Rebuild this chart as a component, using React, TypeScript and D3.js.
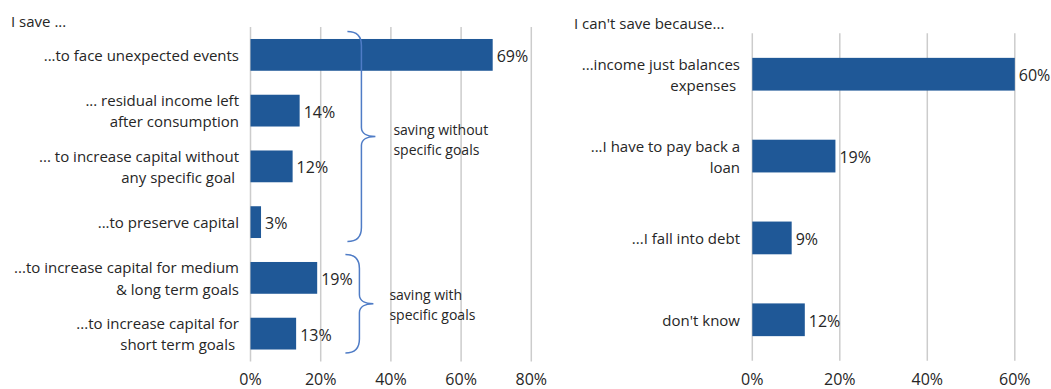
import React from "react";
import * as d3 from "d3";

const saveTitle = "I save ...";
const saveCategories = [
  "...to face unexpected events",
  "... residual income left\nafter consumption",
  "... to increase capital without\nany specific goal ",
  "...to preserve capital",
  "...to increase capital for medium\n& long term goals",
  "...to increase capital for\nshort term goals ",
];
const saveValues = [0.69, 0.14, 0.12, 0.03, 0.19, 0.13];
const saveTicks = [0, 0.2, 0.4, 0.6, 0.8];
const saveGroups = [
  { from: 0, to: 3, label: ["saving without", "specific goals"] },
  { from: 4, to: 5, label: ["saving with", "specific goals"] },
];

const cantTitle = "I can't save because...";
const cantCategories = [
  "...income just balances\nexpenses ",
  "...I have to pay back a\nloan",
  "...I fall into debt",
  "don't know",
];
const cantValues = [0.6, 0.19, 0.09, 0.12];
const cantTicks = [0, 0.2, 0.4, 0.6];

const FONT = "'Open Sans', sans-serif";
const TEXT = "#262626";
const BAR = "#1f5897";
const GRID = "#cccccc";
const BRACE = "#4f7cc6";
const FS = 15;
const NFS = 16;
const fmt = d3.format(".0%");

type PanelProps = {
  title: string;
  titleX: number;
  titleY: number;
  cats: string[];
  values: number[];
  ticks: number[];
  x0: number;
  x1: number;
  y0: number;
  y1: number;
  padInner: number;
  labelX: number;
  lineGap: number;
};

function Panel(p: PanelProps) {
  const x = d3.scaleLinear().domain([0, p.ticks[p.ticks.length - 1]]).range([p.x0, p.x1]);
  const y = d3
    .scaleBand<string>()
    .domain(p.cats)
    .range([p.y0, p.y1])
    .paddingInner(p.padInner)
    .paddingOuter(p.padInner / 2);
  const bw = y.bandwidth();
  return (
    <g>
      <text x={p.titleX} y={p.titleY} dominantBaseline="central" fontSize={FS} fill={TEXT}>
        {p.title}
      </text>
      {p.ticks.map((t) => (
        <g key={t}>
          <line x1={x(t)} x2={x(t)} y1={p.y0} y2={p.y1} stroke={GRID} strokeWidth={1.5} />
          <text x={x(t)} y={384.5} textAnchor="middle" fontSize={NFS} fill={TEXT}>
            {fmt(t)}
          </text>
        </g>
      ))}
      {p.cats.map((c, i) => {
        const cy = (y(c) as number) + bw / 2;
        const lines = c.split("\n");
        const n = lines.length;
        return (
          <g key={c}>
            <rect x={x(0)} y={y(c)} width={x(p.values[i]) - x(0)} height={bw} fill={BAR} />
            <text
              x={x(p.values[i]) + 4}
              y={cy + 1}
              dominantBaseline="central"
              fontSize={NFS}
              fill={TEXT}
            >
              {fmt(p.values[i])}
            </text>
            {lines.map((l, j) => (
              <text
                key={j}
                x={p.labelX}
                y={cy + (j - (n - 1) / 2) * p.lineGap}
                textAnchor="end"
                dominantBaseline="central"
                fontSize={FS}
                fill={TEXT}
                style={{ whiteSpace: "pre" }}
              >
                {l}
              </text>
            ))}
          </g>
        );
      })}
    </g>
  );
}

function bracePath(bx: number, top: number, bottom: number) {
  const mid = (top + bottom) / 2;
  const w = 14;
  return [
    `M${bx - w},${top}`,
    `C${bx - 5},${top} ${bx},${top + 5} ${bx},${top + 14}`,
    `L${bx},${mid - 9}`,
    `C${bx},${mid - 3} ${bx + 6},${mid} ${bx + w},${mid}`,
    `C${bx + 6},${mid} ${bx},${mid + 3} ${bx},${mid + 9}`,
    `L${bx},${bottom - 14}`,
    `C${bx},${bottom - 5} ${bx - 5},${bottom} ${bx - w},${bottom}`,
  ].join(" ");
}

export default function App() {
  const lx0 = 250.5,
    lx1 = 531.3,
    ly0 = 27,
    ly1 = 361.5;
  const xL = d3.scaleLinear().domain([0, 0.8]).range([lx0, lx1]);
  const yL = d3
    .scaleBand<string>()
    .domain(saveCategories)
    .range([ly0, ly1])
    .paddingInner(0.43)
    .paddingOuter(0.215);
  const bw = yL.bandwidth();
  return (
    <svg
      width={1051}
      height={389}
      style={{ position: "absolute", left: 0, top: 0, fontFamily: FONT, background: "#fff" }}
    >
      <Panel
        title={saveTitle}
        titleX={11}
        titleY={20.5}
        cats={saveCategories}
        values={saveValues}
        ticks={saveTicks}
        x0={lx0}
        x1={lx1}
        y0={ly0}
        y1={ly1}
        padInner={0.43}
        labelX={239}
        lineGap={21.5}
      />
      <Panel
        title={cantTitle}
        titleX={574}
        titleY={23}
        cats={cantCategories}
        values={cantValues}
        ticks={cantTicks}
        x0={752.3}
        x1={1014.8}
        y0={33.3}
        y1={360.7}
        padInner={0.6}
        labelX={740}
        lineGap={21}
      />
      {saveGroups.map((g, k) => {
        const top = (yL(saveCategories[g.from]) as number) - 7.5;
        const bottom = (yL(saveCategories[g.to]) as number) + bw + 3.5;
        const bx = xL(0.316) - k * 2;
        const mid = (top + bottom) / 2;
        return (
          <g key={k}>
            <path d={bracePath(bx, top, bottom)} fill="none" stroke={BRACE} strokeWidth={1.5} />
            {g.label.map((l, j) => (
              <text
                key={j}
                x={bx + 32 - k * 2}
                y={mid - 7 + j * 19.5 - k * 2}
                dominantBaseline="central"
                fontSize={14}
                fill={TEXT}
              >
                {l}
              </text>
            ))}
          </g>
        );
      })}
    </svg>
  );
}
